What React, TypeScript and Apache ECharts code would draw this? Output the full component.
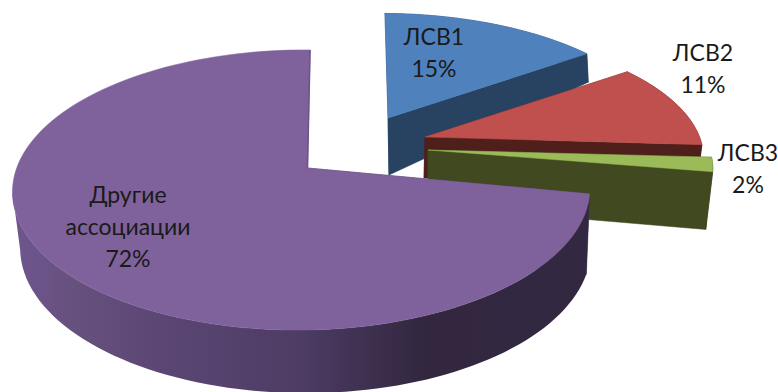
import React, { useEffect, useRef } from "react";
import * as echarts from "echarts";

// Share of each participant, percent
const names = ["ЛСВ1", "ЛСВ2", "ЛСВ3", "Другие\nассоциации"];
const shares = [15, 11, 2, 72];
const topColors = ["#4f81bd", "#c0504d", "#9bbb59", "#7f619c"];
const wallColors = ["#284362", "#4f1f1c", "#40491f", "#4a3960"];

// Each exploded slice, top face (t) and bottom face (b):
// apex x, apex y, radius x, radius y, lean, depth foreshortening, side skew
const faces = [
  { t: [388, 118, 275, 121, 3.5, 0.157, 0.02], b: [389, 175, 273, 175, 0, 0.157, 0.02] },
  { t: [425, 137, 280, 123, 4, 0.157, 0.02], b: [424, 178, 276, 120, 0, 0.157, 0.02] },
  { t: [428, 150, 287, 115, 0, 0.157, 0.02], b: [428, 206, 280, 124, 0, 0.157, 0.02] },
  { t: [307.5, 168, 285, 136.6, -3, 0.157, 0.02], b: [317, 248, 285, 145, 0, 0, 0.04] },
];
const labelSpots = [
  [434, 51.5],
  [703, 68],
  [748, 168],
  [128, 226],
];
const LINE = 32;

function project(f: number[], theta: number): number[] {
  const u = Math.sin(theta);
  const v = -Math.cos(theta);
  const w = 1 - f[5] * v + f[6] * u;
  return [f[0] + (f[2] * u + f[4] * v) / w, f[1] + (f[3] * v) / w];
}

function arc(f: number[], a: number, b: number): number[][] {
  const pts: number[][] = [];
  const n = 120;
  for (let i = 0; i <= n; i++) pts.push(project(f, a + ((b - a) * i) / n));
  return pts;
}

// Index of the left-most point of an arc: past it the wall turns behind the top face
function leftmost(pts: number[][]): number {
  let best = 0;
  pts.forEach((p, i) => {
    if (p[0] < pts[best][0]) best = i;
  });
  return best > 0 ? best : pts.length - 1;
}

const total = shares.reduce((s, v) => s + v, 0);

function renderSlice(params: any, api: any) {
  const i = params.dataIndex;
  const value = api.value(0);
  const before = shares.slice(0, i).reduce((s, v) => s + v, 0);
  const a = (before / total) * 2 * Math.PI;
  const b = ((before + value) / total) * 2 * Math.PI;
  const { t, b: bot } = faces[i];
  const topArc = arc(t, a, b);
  const botArc = arc(bot, a, b);
  const apexT = [t[0], t[1]];
  const apexB = [bot[0], bot[1]];
  const last = topArc.length - 1;
  const closing = i === shares.length - 1;
  const sideFill = closing
    ? new echarts.graphic.LinearGradient(0, 0, 1, 0, [
        { offset: 0, color: "#6e5690" },
        { offset: 0.1, color: "#67517f" },
        { offset: 0.24, color: "#5c4775" },
        { offset: 0.5, color: "#4d3c64" },
        { offset: 0.71, color: "#32273f" },
        { offset: 1, color: "#332841" },
      ])
    : wallColors[i];
  const poly = (points: number[][], fill: any) => ({
    type: "polygon",
    shape: { points },
    style: { fill, stroke: fill === sideFill && closing ? "none" : fill, lineWidth: 0.5 },
  });
  const lines = `${names[i]}\n${value}%`.split("\n");
  const [lx, ly] = labelSpots[i];
  const texts = lines.map((line, n) => ({
    type: "text",
    style: {
      text: line,
      x: lx,
      y: ly + (n - (lines.length - 1) / 2) * LINE,
      fill: "#1a1a1a",
      font: "23px Lato",
      textAlign: "center",
      textVerticalAlign: "middle",
    },
    z2: 10,
  }));
  const sideTop = topArc.slice(0, leftmost(topArc) + 1);
  const sideBot = botArc.slice(0, leftmost(botArc) + 1).reverse();
  const children: any[] = [poly([apexT, topArc[0], botArc[0], apexB], wallColors[i])];
  if (!closing) children.push(poly([apexT, topArc[last], botArc[last], apexB], wallColors[i]));
  children.push(poly([...sideTop, ...sideBot], sideFill));
  children.push(poly([apexT, ...topArc], topColors[i]));
  if (closing) {
    // Thin visible edge of the wall along the closing radius of the big slice
    children.push({
      type: "line",
      shape: { x1: apexT[0], y1: apexT[1], x2: topArc[last][0], y2: topArc[last][1] },
      style: { stroke: "#6c5389", lineWidth: 1.5 },
    });
  }
  return { type: "group", children: [...children, ...texts] };
}

export default function App() {
  const ref = useRef<HTMLDivElement>(null);
  useEffect(() => {
    document.body.style.margin = "0";
    const chart = echarts.init(ref.current!, undefined, { renderer: "svg" });
    chart.setOption({
      animation: false,
      backgroundColor: "#ffffff",
      series: [
        {
          type: "custom",
          coordinateSystem: "none",
          renderItem: renderSlice,
          data: shares.map((v, i) => ({ name: names[i], value: [v] })),
          silent: true,
        },
      ],
    });
    return () => chart.dispose();
  }, []);
  return <div ref={ref} style={{ width: 778, height: 392 }} />;
}
